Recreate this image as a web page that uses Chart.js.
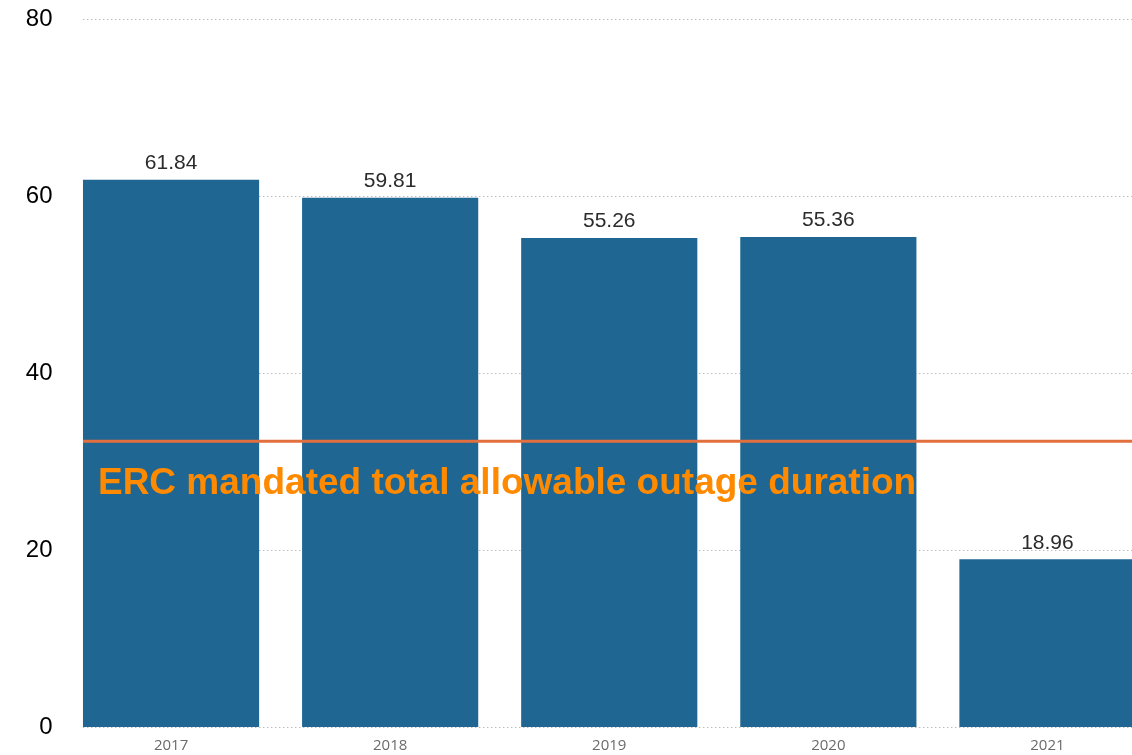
<!DOCTYPE html>
<html>
<head>
<meta charset="utf-8">
<script src="https://cdn.jsdelivr.net/npm/chart.js@4"></script>
<style>
html,body{margin:0;padding:0;background:#fff;overflow:hidden;width:1132px;height:755px;}
#wrap{position:absolute;left:0;top:0;width:1157px;height:755px;}
</style>
</head>
<body>
<div id="wrap"><canvas id="c"></canvas></div>
<script>
const categories = ['2017', '2018', '2019', '2020', '2021'];
const outageHours = [61.84, 59.81, 55.26, 55.36, 18.96];
const yTicks = [0, 20, 40, 60, 80];
const thresholdValue = 32.3;
const thresholdLabel = 'ERC mandated total allowable outage duration';

function barsLeft(chart) {
  const b = chart.getDatasetMeta(0).data[0];
  return b.x - b.width / 2;
}

const dottedGrid = {
  id: 'dottedGrid',
  beforeDatasetsDraw(chart) {
    const ctx = chart.ctx;
    const ys = chart.scales.y;
    const x0 = barsLeft(chart);
    const x1 = chart.chartArea.right;
    ctx.save();
    ctx.strokeStyle = '#bdbdbd';
    ctx.lineWidth = 1;
    ctx.setLineDash([1.5, 2.5]);
    yTicks.forEach(v => {
      const y = Math.round(ys.getPixelForValue(v)) + 0.5;
      ctx.beginPath();
      ctx.moveTo(x0, y);
      ctx.lineTo(x1, y);
      ctx.stroke();
    });
    ctx.restore();
  }
};

const valueLabels = {
  id: 'valueLabels',
  afterDatasetsDraw(chart) {
    const ctx = chart.ctx;
    const meta = chart.getDatasetMeta(0);
    ctx.save();
    ctx.font = '21px "Liberation Sans", Arial, sans-serif';
    ctx.fillStyle = '#2b2b2b';
    ctx.textAlign = 'center';
    ctx.textBaseline = 'bottom';
    meta.data.forEach((bar, i) => {
      ctx.fillText(outageHours[i].toFixed(2), bar.x, bar.y - 6);
    });
    ctx.restore();
  }
};

const thresholdLine = {
  id: 'thresholdLine',
  afterDatasetsDraw(chart) {
    const ctx = chart.ctx;
    const y = chart.scales.y.getPixelForValue(thresholdValue);
    const x0 = barsLeft(chart);
    ctx.save();
    ctx.strokeStyle = '#E2703F';
    ctx.lineWidth = 3;
    ctx.beginPath();
    ctx.moveTo(x0, y);
    ctx.lineTo(chart.chartArea.right, y);
    ctx.stroke();
    ctx.font = 'bold 37px "Liberation Sans", Arial, sans-serif';
    ctx.fillStyle = '#FF8A00';
    ctx.textAlign = 'left';
    ctx.textBaseline = 'alphabetic';
    ctx.fillText(thresholdLabel, x0 + 15, y + 53);
    ctx.restore();
  }
};

new Chart(document.getElementById('c'), {
  type: 'bar',
  data: {
    labels: categories,
    datasets: [{
      data: outageHours,
      backgroundColor: '#1F6693',
      borderWidth: 0,
      categoryPercentage: 1,
      barPercentage: 0.804
    }]
  },
  options: {
    responsive: true,
    maintainAspectRatio: false,
    animation: false,
    layout: { padding: { top: 19, right: 0, bottom: 0, left: 0 } },
    plugins: { legend: { display: false }, tooltip: { enabled: false } },
    scales: {
      x: {
        grid: { display: false, drawTicks: false },
        border: { display: false },
        afterFit(scale) { scale.height = 28; scale.paddingLeft = 0; scale.paddingRight = 0; },
        ticks: {
          color: '#6b6b6b',
          font: { family: '"Open Sans", sans-serif', size: 15 },
          padding: 10
        }
      },
      y: {
        min: 0,
        max: 80,
        afterFit(scale) { scale.width = 61.5; scale.paddingTop = 0; scale.paddingBottom = 0; },
        afterBuildTicks(scale) { scale.ticks = yTicks.map(v => ({ value: v })); },
        grid: { display: false, drawTicks: false },
        border: { display: false },
        ticks: {
          color: '#000',
          font: { family: '"Liberation Sans", Arial, sans-serif', size: 24 },
          padding: 9
        }
      }
    }
  },
  plugins: [dottedGrid, valueLabels, thresholdLine]
});
</script>
</body>
</html>
